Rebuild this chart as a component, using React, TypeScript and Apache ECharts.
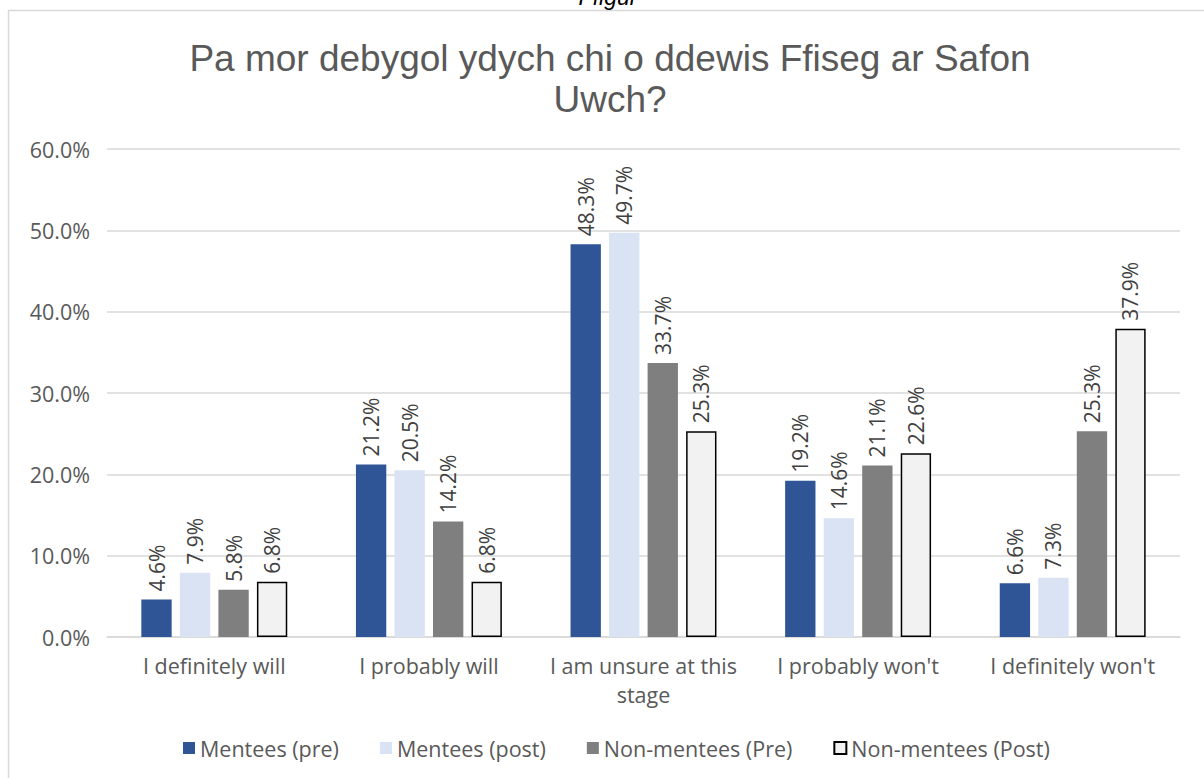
import React, { useEffect, useRef } from "react";
import * as echarts from "echarts";

const categories = [
  "I definitely will",
  "I probably will",
  "I am unsure at this\nstage",
  "I probably won't",
  "I definitely won't",
];
const seriesNames = ["Mentees (pre)", "Mentees (post)", "Non-mentees (Pre)", "Non-mentees (Post)"];
const menteesPre = [4.6, 21.2, 48.3, 19.2, 6.6];
const menteesPost = [7.9, 20.5, 49.7, 14.6, 7.3];
const nonMenteesPre = [5.8, 14.2, 33.7, 21.1, 25.3];
const nonMenteesPost = [6.8, 6.8, 25.3, 22.6, 37.9];
const titleText = "Pa mor debygol ydych chi o ddewis Ffiseg ar Safon\nUwch?";
const captionText = "Ffigur";

const colors = ["#2F5597", "#DAE3F3", "#7F7F7F", "#F2F2F2"];
const FONT = "Open Sans";

export default function App() {
  const ref = useRef<HTMLDivElement>(null);
  useEffect(() => {
    if (!ref.current) return;
    const chart = echarts.init(ref.current, undefined, { renderer: "svg" });
    const values = [menteesPre, menteesPost, nonMenteesPre, nonMenteesPost];
    chart.setOption({
      animation: false,
      backgroundColor: "#fff",
      textStyle: { fontFamily: FONT },
      graphic: [
        {
          type: "rect",
          shape: { x: 8.5, y: 10.5, width: 1300, height: 900 },
          style: { fill: "none", stroke: "#D9D9D9", lineWidth: 1.5 },
          silent: true,
        },
        {
          type: "text",
          x: 608,
          y: 8,
          style: {
            text: captionText,
            font: "italic 23px 'Liberation Sans'",
            fill: "#000",
            align: "center",
            verticalAlign: "bottom",
          },
        },
      ],
      title: {
        text: titleText,
        left: 605,
        textAlign: "center",
        top: 33,
        textStyle: {
          fontFamily: "Liberation Sans",
          fontSize: 37,
          fontWeight: "normal",
          color: "#595959",
          lineHeight: 41,
        },
      },
      legend: {
        bottom: 14,
        left: 178,
        itemWidth: 12,
        itemHeight: 12,
        itemGap: 41,
        icon: "rect",
        textStyle: { fontSize: 21.5, color: "#595959", fontFamily: FONT },
        data: seriesNames,
      },
      grid: { left: 107, right: 24, top: 149, bottom: 141 },
      xAxis: {
        type: "category",
        data: categories,
        axisLine: { lineStyle: { color: "#D9D9D9", width: 1.5 } },
        axisTick: { show: false },
        axisLabel: {
          fontSize: 21.5,
          color: "#595959",
          margin: 14,
          lineHeight: 29,
          interval: 0,
        },
      },
      yAxis: {
        type: "value",
        min: 0,
        max: 60,
        interval: 10,
        axisLine: { show: false },
        axisTick: { show: false },
        splitLine: { lineStyle: { color: "#D9D9D9", width: 1.5 } },
        axisLabel: {
          fontSize: 21.5,
          color: "#595959",
          margin: 17,
          formatter: (v: number) => v.toFixed(1) + "%",
        },
      },
      series: seriesNames.map((name, i) => ({
        name,
        type: "bar",
        data: values[i],
        barGap: "27%",
        barCategoryGap: "32%",
        itemStyle: {
          color: colors[i],
          borderColor: i === 3 ? "#000" : undefined,
          borderWidth: i === 3 ? 1.5 : 0,
        },
        label: {
          show: true,
          position: "top",
          rotate: 90,
          align: "left",
          verticalAlign: "middle",
          distance: 8,
          fontSize: 21,
          color: "#404040",
          formatter: (p: any) => p.value.toFixed(1) + "%",
        },
      })),
    });
    return () => chart.dispose();
  }, []);
  return (
    <div
      ref={ref}
      style={{ position: "fixed", left: 0, top: 0, width: 1204, height: 778 }}
    />
  );
}
